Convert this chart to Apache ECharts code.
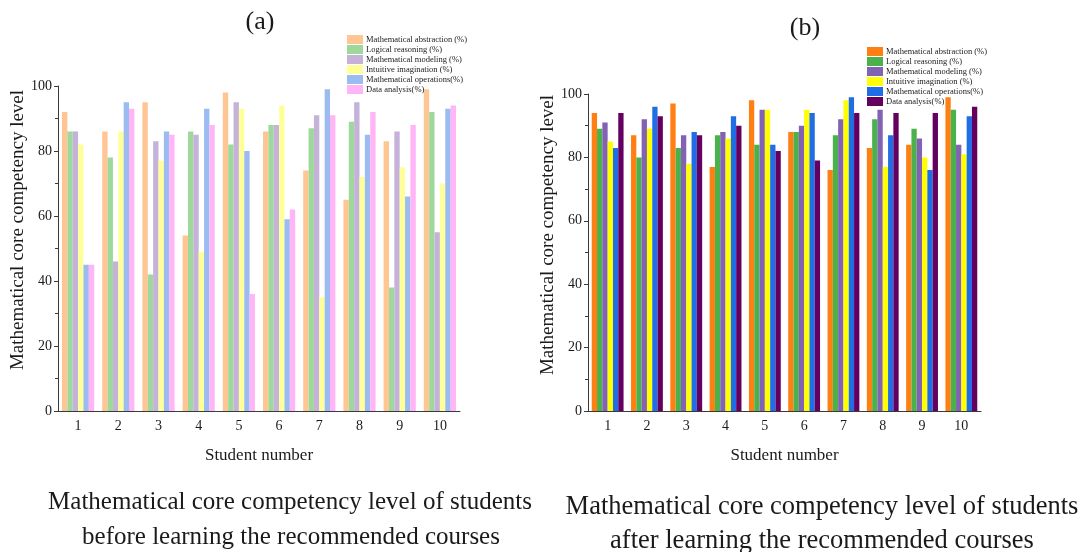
<!DOCTYPE html>
<html>
<head>
<meta charset="utf-8">
<script src="https://cdn.jsdelivr.net/npm/echarts@6/dist/echarts.min.js"></script>
<style>html,body{margin:0;padding:0;background:#fff}#c{width:1085px;height:552px}</style>
</head>
<body>
<div id="c"></div>
<script>
const students = ['1','2','3','4','5','6','7','8','9','10'];
const seriesNames = ['Mathematical abstraction (%)','Logical reasoning (%)','Mathematical modeling (%)','Intuitive imagination (%)','Mathematical operations(%)','Data analysis(%)'];
const yTicks = [0,20,40,60,80,100];

// (a) before learning
const beforeAbstraction = [92,86,95,54,98,86,74,65,83,99];
const beforeLogical     = [86,78,42,86,82,88,87,89,38,92];
const beforeModeling    = [86,46,83,85,95,88,91,95,86,55];
const beforeIntuitive   = [82,86,77,49,93,94,35,72,75,70];
const beforeOperations  = [45,95,86,93,80,59,99,85,66,93];
const beforeData        = [45,93,85,88,36,62,91,92,88,94];

// (b) after learning
const afterAbstraction = [94,87,97,77,98,88,76,83,84,99];
const afterLogical     = [89,80,83,87,84,88,87,92,89,95];
const afterModeling    = [91,92,87,88,95,90,92,95,86,84];
const afterIntuitive   = [85,89,78,86,95,95,98,77,80,81];
const afterOperations  = [83,96,88,93,84,94,99,87,76,93];
const afterData        = [94,93,87,90,82,79,94,94,94,96];

const beforeColors = ['#FFC593','#9ED99B','#C4B2D8','#FFFF99','#9CBBF1','#FFB5F6'];
const afterColors  = ['#FF7F12','#4BB24B','#8262B2','#FFFF00','#1F6EE6','#640060'];

const beforeData6 = [beforeAbstraction,beforeLogical,beforeModeling,beforeIntuitive,beforeOperations,beforeData];
const afterData6  = [afterAbstraction,afterLogical,afterModeling,afterIntuitive,afterOperations,afterData];

const FONT = '"Liberation Serif", "DejaVu Serif", serif';
const TXT = '#1a1a1a';
const AX = '#3a3a3a';

function xAxes(grid){
  return [
    {type:'category', gridIndex:grid, data:students,
     axisLine:{lineStyle:{color:AX,width:1}},
     axisTick:{alignWithLabel:true,length:4,lineStyle:{color:AX}},
     axisLabel:{fontFamily:FONT,fontSize:14,color:TXT,margin:8},
     name:'Student number', nameLocation:'middle', nameGap:36,
     nameTextStyle:{fontFamily:FONT,fontSize:17,color:TXT}},
    {type:'category', gridIndex:grid, data:students, position:'bottom',
     axisLine:{show:false},
     axisTick:{length:2,lineStyle:{color:AX}},
     axisLabel:{show:false}}
  ];
}
function yAxis(grid){
  return {type:'value', gridIndex:grid, min:0, max:100, interval:20,
    axisLine:{show:true,lineStyle:{color:AX,width:1}},
    axisTick:{show:true,length:4,lineStyle:{color:AX}},
    minorTick:{show:true,splitNumber:2,length:3,lineStyle:{color:AX}},
    splitLine:{show:false},
    axisLabel:{fontFamily:FONT,fontSize:14,color:TXT,margin:6}};
}

const series = [];
seriesNames.forEach((n,i)=>{
  series.push({name:n, type:'bar', xAxisIndex:0, yAxisIndex:0, data:beforeData6[i],
    itemStyle:{color:beforeColors[i]}, barGap:'0%', barCategoryGap:'20%', animation:false});
});
seriesNames.forEach((n,i)=>{
  series.push({name:n+' ', type:'bar', xAxisIndex:2, yAxisIndex:1, data:afterData6[i],
    itemStyle:{color:afterColors[i]}, barGap:'0%', barCategoryGap:'19%', animation:false});
});

const legendBase = {orient:'vertical', itemWidth:16, itemHeight:9, itemGap:1,
  icon:'rect', textStyle:{fontFamily:FONT,fontSize:8.5,color:TXT,padding:[0,0,0,-2]}, padding:0, selectedMode:false};

const option = {
  animation:false,
  backgroundColor:'#fff',
  grid:[
    {left:58, right:625, top:86, bottom:141},
    {left:588, right:104, top:94, bottom:141}
  ],
  xAxis:[...xAxes(0), ...xAxes(1)],
  yAxis:[yAxis(0), yAxis(1)],
  legend:[
    Object.assign({}, legendBase, {left:347, top:35, data:seriesNames.map((n,i)=>({name:n, itemStyle:{color:beforeColors[i]}}))}),
    Object.assign({}, legendBase, {left:867, top:47, data:seriesNames.map((n,i)=>({name:n+' ', itemStyle:{color:afterColors[i]}}))})
  ],
  series:series,
  graphic:[
    {type:'text', x:260, y:22, style:{text:'(a)', font:'26px '+FONT, fill:TXT, align:'center', verticalAlign:'middle'}},
    {type:'text', x:805, y:28, style:{text:'(b)', font:'26px '+FONT, fill:TXT, align:'center', verticalAlign:'middle'}},
    {type:'text', x:18, y:230, rotation:Math.PI/2, style:{text:'Mathematical core competency level', font:'19px '+FONT, fill:TXT, align:'center', verticalAlign:'middle'}},
    {type:'text', x:548, y:235, rotation:Math.PI/2, style:{text:'Mathematical core competency level', font:'19px '+FONT, fill:TXT, align:'center', verticalAlign:'middle'}},
    {type:'text', x:290, y:502, style:{text:'Mathematical core competency level of students', font:'25px '+FONT, fill:TXT, align:'center', verticalAlign:'middle'}},
    {type:'text', x:291, y:537, style:{text:'before learning the recommended courses', font:'25px '+FONT, fill:TXT, align:'center', verticalAlign:'middle'}},
    {type:'text', x:822, y:507, style:{text:'Mathematical core competency level of students', font:'26.5px '+FONT, fill:TXT, align:'center', verticalAlign:'middle'}},
    {type:'text', x:822, y:541, style:{text:'after learning the recommended courses', font:'26.5px '+FONT, fill:TXT, align:'center', verticalAlign:'middle'}}
  ]
};
const chart = echarts.init(document.getElementById('c'), null, {renderer:'canvas'});
chart.setOption(option);
</script>
</body>
</html>
